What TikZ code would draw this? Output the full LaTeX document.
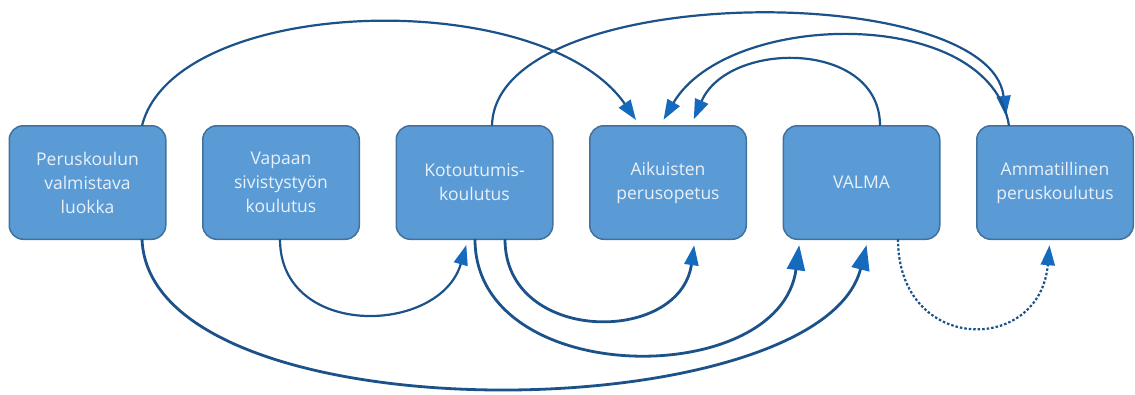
\documentclass[tikz,border=0pt]{standalone}
\usepackage{fontspec}
\setmainfont{Open Sans}
\usepackage{tikz}
\usetikzlibrary{arrows.meta,positioning}
\definecolor{boxfill}{RGB}{91,155,213}
\definecolor{boxedge}{RGB}{65,113,156}
\definecolor{boxtext}{RGB}{232,241,250}
\definecolor{linkblue}{RGB}{28,82,138}
\definecolor{tipblue}{RGB}{22,106,190}

\begin{document}
\begin{tikzpicture}[x=1pt, y=-1pt,
	stage/.style={draw=boxedge, fill=boxfill, line width=1.5pt, rounded corners=14pt, minimum width=156.5pt, minimum height=113.5pt, inner sep=0pt, outer sep=0pt, align=center, text=boxtext, font=\fontsize{17.5}{24}\selectfont},
	link/.style={draw=linkblue, line width=2.2pt},
	heavylink/.style={draw=linkblue, line width=2.8pt},
	smalltip/.style={-{Triangle[length=20pt,width=14pt,color=tipblue]}},
	bigtip/.style={-{Triangle[length=25pt,width=18pt,color=tipblue]}}]
				\path [use as bounding box, fill=white] (0,0) rectangle (1135,394);
				
				\node [stage] (perus) at (87.5,182.5) {Peruskoulun\\valmistava\\luokka};
				\node [stage, right=37pt of perus] (vapaa) {Vapaan\\sivistystyön\\koulutus};
				\node [stage, right=37pt of vapaa] (kotout) {Kotoutumis-\\koulutus};
				\node [stage, right=37pt of kotout] (aikuis) {Aikuisten\\perusopetus};
				\node [stage, right=37pt of aikuis] (valma) {VALMA};
				\node [stage, right=37pt of valma] (ammat) {Ammatillinen\\peruskoulutus};
				
				% over the boxes
				\draw [link, smalltip, shorten >=7pt] ([xshift=54.5pt]perus.north) .. controls +(33,-131) and +(-98,-141) .. ([xshift=-28pt]aikuis.north);
				\draw [link, smalltip, shorten >=10pt] ([xshift=17.5pt]kotout.north) .. controls +(3,-146) and +(-17,-146) .. ([xshift=-48pt]ammat.north);
				\draw [link, smalltip, shorten >=7pt] ([xshift=-46pt]ammat.north) .. controls +(-19,-121) and +(68,-116) .. ([xshift=-8pt]aikuis.north);
				\draw [link, smalltip, shorten >=7pt] ([xshift=18.5pt]valma.north) .. controls +(0,-86) and +(37,-86) .. ([xshift=23pt]aikuis.north);
				
				% under the boxes
				\draw [heavylink, bigtip, shorten >=6pt] ([xshift=54.5pt]perus.south) .. controls +(8,201) and +(-48,191) .. ([xshift=6.5pt]valma.south);
				\draw [link, smalltip, shorten >=6pt] ([xshift=-1pt]vapaa.south) .. controls +(0,100) and +(-28,96) .. ([xshift=-6.5pt]kotout.south);
				\draw [heavylink, smalltip, shorten >=6pt] ([xshift=30.5pt]kotout.south) .. controls +(0,105) and +(-15,106) .. ([xshift=27pt]aikuis.south);
				\draw [heavylink, bigtip, shorten >=6pt] ([xshift=0.5pt]kotout.south) .. controls +(0,150) and +(-20,151) .. ([xshift=-61.5pt]valma.south);
				\draw [link, smalltip, shorten >=6pt, dash pattern=on 2.5pt off 2pt] ([xshift=36.5pt]valma.south) .. controls +(0,115) and +(-10,116) .. ([xshift=-5pt]ammat.south);
			\end{tikzpicture}
\end{document}
